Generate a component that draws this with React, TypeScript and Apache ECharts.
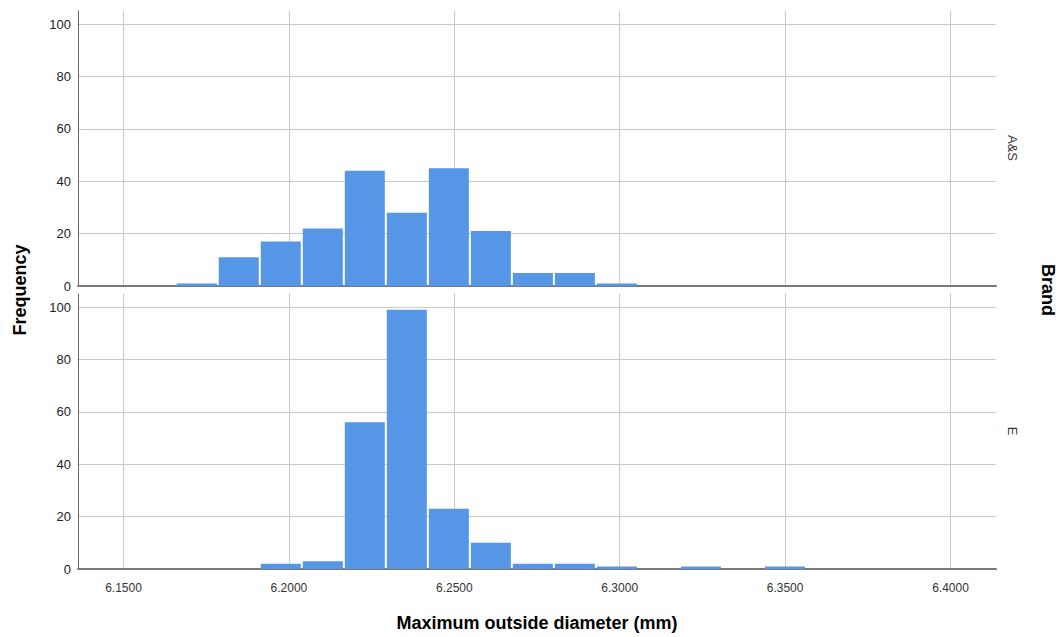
import React, { useEffect, useRef } from "react";
import * as echarts from "echarts";

// Histogram bin edges (mm)
const binEdges = [
  6.1658, 6.1785, 6.1912, 6.2039, 6.2166, 6.2293, 6.242, 6.2547, 6.2674,
  6.2801, 6.2928, 6.3055, 6.3182, 6.3309, 6.3436, 6.3563,
];
// Frequencies per bin for each brand
const asCounts = [1, 11, 17, 22, 44, 28, 45, 21, 5, 5, 1, 0, 0, 0, 0];
const eCounts = [0, 0, 2, 3, 56, 99, 23, 10, 2, 2, 1, 0, 1, 0, 1];
const panelLabels = ["A&S", "E"];
const xMin = 6.13625;
const xMax = 6.41375;
const yMax = 105;

const FONT = "'Liberation Sans', Arial, sans-serif";
const BAR_COLOR = "#5596e6";
const GRID_COLOR = "#c8c8c8";

export default function App() {
  const ref = useRef<HTMLDivElement>(null);
  useEffect(() => {
    document.body.style.margin = "0";
    if (!ref.current) return;
    const chart = echarts.init(ref.current, null, { renderer: "svg" });
    const seriesCounts = [asCounts, eCounts];
    const grids = [
      { left: 78, right: 66, top: 11, height: 275 },
      { left: 78, right: 66, top: 294, height: 275 },
    ];
    const option: any = {
      animation: false,
      textStyle: { fontFamily: FONT },
      grid: grids,
      xAxis: [0, 1].map((i) => ({
        type: "value",
        gridIndex: i,
        min: xMin,
        max: xMax,
        minInterval: 0.05,
        maxInterval: 0.05,
        axisLine: { show: true, onZero: false, lineStyle: { color: "#7a7a7a", width: 2 } },
        axisTick: { show: false },
        axisLabel: {
          show: i === 1,
          formatter: (v: number) => v.toFixed(4),
          fontSize: 12,
          color: "#333",
          margin: 13,
          fontFamily: FONT,
          showMinLabel: false,
          showMaxLabel: false,
        },
        splitLine: {
          show: true,
          showMinLine: false,
          showMaxLine: false,
          lineStyle: { color: GRID_COLOR, width: 1 },
        },
        name: i === 1 ? "Maximum outside diameter (mm)" : "",
        nameLocation: "middle",
        nameGap: 45,
        nameTextStyle: { fontSize: 18, fontWeight: "bold", color: "#000", fontFamily: FONT },
      })),
      yAxis: [0, 1].map((i) => ({
        type: "value",
        gridIndex: i,
        min: 0,
        max: yMax,
        interval: 20,
        axisLine: { show: true, lineStyle: { color: "#666", width: 1 } },
        axisTick: { show: false },
        axisLabel: {
          fontSize: 13,
          color: "#222",
          margin: 7,
          fontFamily: FONT,
          showMaxLabel: false,
        },
        splitLine: {
          show: true,
          showMaxLine: false,
          showMinLine: false,
          lineStyle: { color: GRID_COLOR, width: 1 },
        },
      })),
      series: [0, 1].map((i) => ({
        type: "custom",
        xAxisIndex: i,
        yAxisIndex: i,
        encode: { x: [0, 1], y: 2 },
        data: seriesCounts[i]
          .map((c, k) => [binEdges[k], binEdges[k + 1], c])
          .filter((d) => d[2] > 0),
        renderItem: (params: any, api: any) => {
          const p0 = api.coord([api.value(0), api.value(2)]);
          const p1 = api.coord([api.value(1), 0]);
          return {
            type: "rect",
            shape: {
              x: p0[0] + 1,
              y: p0[1],
              width: p1[0] - p0[0] - 2,
              height: p1[1] - p0[1],
            },
            style: { fill: BAR_COLOR },
          };
        },
      })),
      graphic: [
        {
          type: "text",
          x: 20,
          y: 290,
          rotation: Math.PI / 2,
          style: {
            text: "Frequency",
            fontSize: 18,
            fontWeight: "bold",
            fill: "#000",
            fontFamily: FONT,
            textAlign: "center",
            textVerticalAlign: "middle",
          },
        },
        {
          type: "text",
          x: 1048,
          y: 290,
          rotation: -Math.PI / 2,
          style: {
            text: "Brand",
            fontSize: 18,
            fontWeight: "bold",
            fill: "#000",
            fontFamily: FONT,
            textAlign: "center",
            textVerticalAlign: "middle",
          },
        },
        ...panelLabels.map((t, i) => ({
          type: "text",
          x: 1012,
          y: i === 0 ? 148 : 431,
          rotation: -Math.PI / 2,
          style: {
            text: t,
            fontSize: 13,
            fill: "#333",
            fontFamily: FONT,
            textAlign: "center",
            textVerticalAlign: "middle",
          },
        })),
      ],
    };
    chart.setOption(option);
    return () => chart.dispose();
  }, []);
  return <div ref={ref} style={{ width: 1062, height: 637 }} />;
}
